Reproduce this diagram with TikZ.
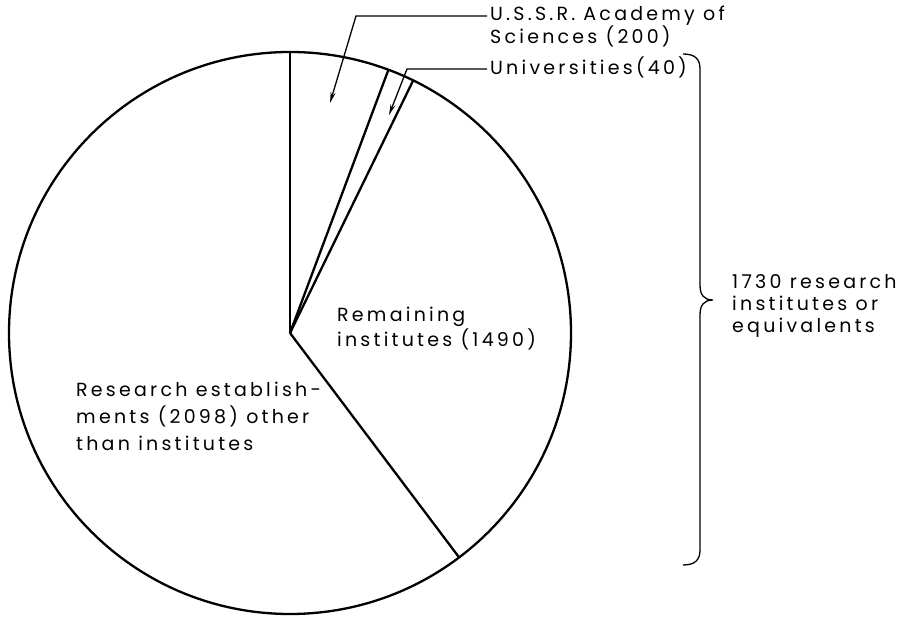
\documentclass[tikz,border=0pt]{standalone}
\usepackage{fontspec}
\setmainfont[LetterSpace=17]{Poppins}
\usetikzlibrary{arrows.meta}
\begin{document}
\begin{tikzpicture}[x=1pt,y=1pt,
  outline/.style={line width=2.3pt, line join=round},
  leader/.style={line width=1.3pt},
  pointer/.style={leader, -{Stealth[length=11pt,width=5pt]}},
  lbl/.style={inner sep=0pt, align=left}
]
\useasboundingbox (0,0) rectangle (905,621);

% pie: centre and rim
\coordinate (C) at (290,288);
\draw[outline] (C) circle (281);

% sector boundaries
\draw[outline] (C) -- ++(90:281)   coordinate (b1);
\draw[outline] (C) -- ++(69.5:281) coordinate (b2);
\draw[outline] (C) -- ++(64:281)   coordinate (b3);
\draw[outline] (C) -- ++(-53:281)  coordinate (b4);

% labels (base = baseline of the last line)
\node[lbl, anchor=base west, font=\fontsize{19}{20}\selectfont] (acad) at (490,577)
  {U.S.S.R.\hspace{8pt}Academy of\\Sciences (200)};
\node[lbl, anchor=base west, font=\fontsize{19}{21}\selectfont] (univ) at (490,546)
  {Universities(40)};
\node[lbl, anchor=base west, font=\fontsize{19}{25}\selectfont] (rem) at (337,274)
  {Remaining\\institutes (1490)};
\node[lbl, anchor=base west, font=\fontsize{19}{27}\selectfont] (res) at (76,170)
  {Research establish-\\ments (2098) other\\than institutes};

% leaders with arrows into the two small sectors
\coordinate (a1) at (356,605);
\coordinate (atip) at (330,518);
\draw[pointer] ([xshift=-3pt]acad.west |- a1) -- (a1) -- (atip);
\coordinate (u1) at (407,552);
\coordinate (utip) at (389,506);
\draw[pointer] ([xshift=-3pt]univ.west |- u1) -- (u1) -- (utip);

% brace grouping the institutes
\coordinate (btop) at (683,567);
\coordinate (btip) at (713,321);
\coordinate (bbot) at (683,56);
\draw[leader] (btop) .. controls (695,567) and (700,562) .. (700,552)
  -- (700,336) .. controls (700,326) and (704,321) .. (btip)
  .. controls (704,321) and (700,316) .. (700,306)
  -- (700,71) .. controls (700,61) and (695,56) .. (bbot);
\node[lbl, anchor=west, font=\fontsize{19}{22}\selectfont] (grp) at ([xshift=19pt,yshift=-6pt]btip)
  {1730 research\\institutes or\\equivalents};
\end{tikzpicture}
\end{document}
